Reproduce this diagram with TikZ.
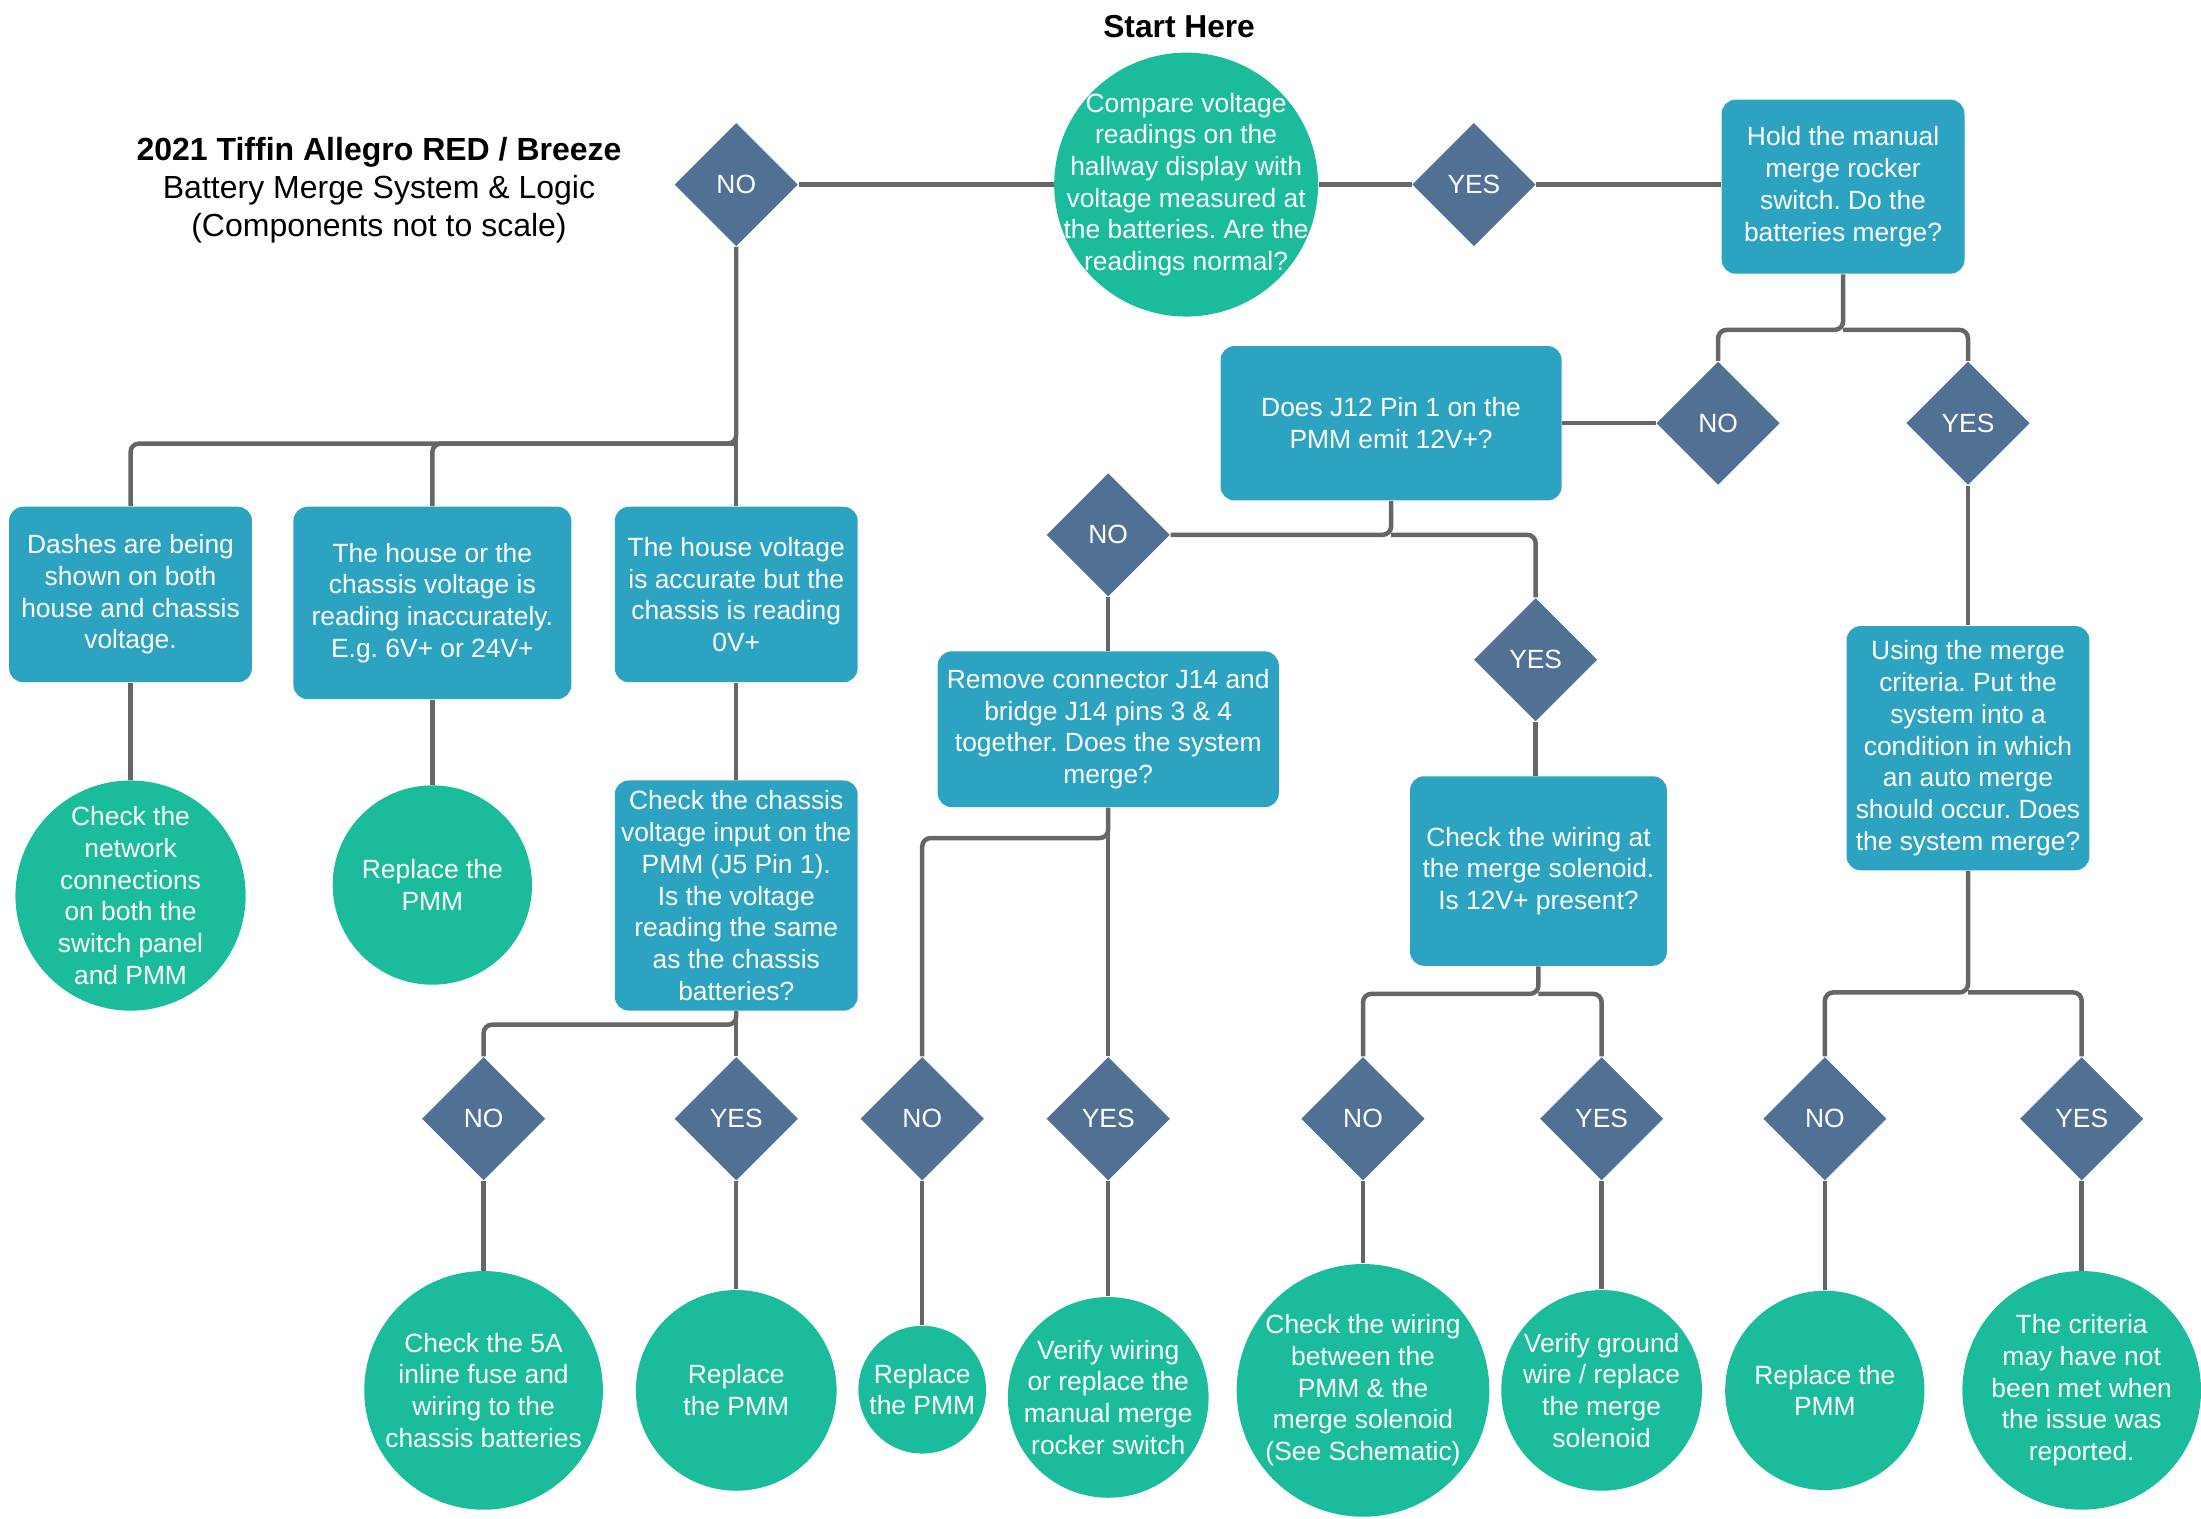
\documentclass[tikz,border=0pt]{standalone}
\usepackage{fontspec}
\setmainfont{Liberation Sans}
\usetikzlibrary{shapes.geometric}
\definecolor{circc}{HTML}{1BBC9B}
\definecolor{boxc}{HTML}{2CA3C0}
\definecolor{diac}{HTML}{517194}
\definecolor{linec}{HTML}{666666}
\frenchspacing
\begin{document}
\begin{tikzpicture}[x=0.5pt,y=-0.5pt,
  txt/.style={font=\fontsize{9.4}{11.3}\selectfont, text=white, align=center},
  box/.style={txt, rectangle, fill=boxc, rounded corners=5pt, inner sep=1pt},
  dec/.style={txt, diamond, fill=diac, minimum width=44pt, minimum height=44pt, inner sep=0pt},
  endc/.style={txt, circle, fill=circc, inner sep=-25pt},
  conn/.style={draw=linec, line width=1.6pt, rounded corners=3pt},
]
\useasboundingbox (0,0) rectangle (1568,1082);

% title
\node[font=\fontsize{11.4}{13.7}\selectfont, align=center] (title) at (270,135.5)
  {\textbf{2021 Tiffin Allegro RED / Breeze}\\Battery Merge System \& Logic\\(Components not to scale)};
\node[font=\bfseries\fontsize{11.3}{13.6}\selectfont] (starthere) at (840,19) {Start Here};

% top row
\node[endc, minimum size=94pt] (start) at (845,131.5)
  {Compare voltage\\readings on the\\hallway display with\\voltage measured at\\the batteries. Are the\\readings normal?};
\node[dec] (dNOa) at (524.5,131.5) {NO};
\node[dec] (dYESa) at (1050,131.5) {YES};
\node[box, minimum width=86.5pt, minimum height=62pt] (hold) at (1313,133)
  {Hold the manual\\merge rocker\\switch. Do the\\batteries merge?};

\node[dec] (dNOb) at (1224,301.5) {NO};
\node[dec] (dYESb) at (1402,301.5) {YES};
\node[box, minimum width=121.5pt, minimum height=55pt] (jtwelve) at (991,301.5)
  {Does J12 Pin 1 on the\\PMM emit 12V+?};

% left branch
\node[box, minimum width=86.5pt, minimum height=62.5pt] (ba) at (93,423.5)
  {Dashes are being\\shown on both\\house and chassis\\voltage.};
\node[box, minimum width=99pt, minimum height=68.5pt] (bb) at (308,429.5)
  {The house or the\\chassis voltage is\\reading inaccurately.\\E.g. 6V+ or 24V+};
\node[box, minimum width=86.5pt, minimum height=62.5pt] (bc) at (524.5,423.5)
  {The house voltage\\is accurate but the\\chassis is reading\\0V+};
\node[endc, minimum size=82pt] (ca) at (93,638)
  {Check the\\network\\connections\\on both the\\switch panel\\and PMM};
\node[endc, minimum size=71pt] (cb) at (308,630.5) {Replace the\\PMM};
\node[box, minimum width=86.5pt, minimum height=82pt] (bd) at (524.5,638)
  {Check the chassis\\voltage input on the\\PMM (J5 Pin 1).\\Is the voltage\\reading the same\\as the chassis\\batteries?};
\node[dec] (dNOc) at (344.5,797) {NO};
\node[dec] (dYESc) at (524.5,797) {YES};
\node[endc, minimum size=85pt] (cc) at (344.5,990.5)
  {Check the 5A\\inline fuse and\\wiring to the\\chassis batteries};
\node[endc, minimum size=71.5pt] (cd) at (524.5,990.5) {Replace\\the PMM};

% middle branch
\node[dec] (dNOd) at (789.5,381) {NO};
\node[dec] (dYESd) at (1094,470) {YES};
\node[box, minimum width=121.5pt, minimum height=55.5pt] (rem) at (789.5,519.5)
  {Remove connector J14 and\\bridge J14 pins 3 \& 4\\together. Does the system\\merge?};
\node[dec] (dNOe) at (657,797) {NO};
\node[dec] (dYESe) at (789.5,797) {YES};
\node[endc, minimum size=45.5pt] (ce) at (657,990) {Replace\\the PMM};
\node[endc, minimum size=71.5pt] (cf) at (789.5,995.5)
  {Verify wiring\\or replace the\\manual merge\\rocker switch};

\node[box, minimum width=91.5pt, minimum height=67.5pt] (chk) at (1096,620.5)
  {Check the wiring at\\the merge solenoid.\\Is 12V+ present?};
\node[dec] (dNOf) at (971,797) {NO};
\node[dec] (dYESf) at (1141,797) {YES};
\node[endc, minimum size=90pt] (cg) at (971,990.5)
  {Check the wiring\\between the\\PMM \& the\\merge solenoid\\(See Schematic)};
\node[endc, minimum size=71.5pt] (ch) at (1141,990.5)
  {Verify ground\\wire / replace\\the merge\\solenoid};

% right branch
\node[box, minimum width=86.5pt, minimum height=87pt] (using) at (1402,533)
  {Using the merge\\criteria. Put the\\system into a\\condition in which\\an auto merge\\should occur. Does\\the system merge?};
\node[dec] (dNOg) at (1300,797) {NO};
\node[dec] (dYESg) at (1483,797) {YES};
\node[endc, minimum size=71pt] (ci) at (1300,990.5) {Replace the\\PMM};
\node[endc, minimum size=85pt] (cj) at (1483,990.5)
  {The criteria\\may have not\\been met when\\the issue was\\reported.};

% junctions
\coordinate (ja) at (524.5,316);
\coordinate (jb) at (524.5,730);
\coordinate (jc) at (1313,235);
\coordinate (jd) at (991,381);
\coordinate (je) at (789.5,597);
\coordinate (jf) at (1096,708);
\coordinate (jg) at (1402,707);

% connectors
\draw[conn] (start.west) -- (dNOa.east);
\draw[conn] (start.east) -- (dYESa.west);
\draw[conn] (dYESa.east) -- (dYESa.east -| hold.west);
\draw[conn] (hold.south) -- (jc) -| (dNOb.north);
\draw[conn] (jc) -| (dYESb.north);
\draw[conn] (dNOb.west) -- (jtwelve.east);
\draw[conn] (dYESb.south) -- (using.north);

\draw[conn] (dNOa.south) -- (ja) -| (ba.north);
\draw[conn] (ja) -| (bb.north);
\draw[conn] (dNOa.south) -- (bc.north);
\draw[conn] (ba.south) -- (ca.north);
\draw[conn] (bb.south) -- (cb.north);
\draw[conn] (bc.south) -- (bd.north);
\draw[conn] (bd.south) -- (jb) -| (dNOc.north);
\draw[conn] (bd.south) -- (dYESc.north);
\draw[conn] (dNOc.south) -- (cc.north);
\draw[conn] (dYESc.south) -- (cd.north);

\draw[conn] (jtwelve.south) -- (jd) -- (dNOd.east);
\draw[conn] (jd) -| (dYESd.north);
\draw[conn] (dNOd.south) -- (rem.north);
\draw[conn] (rem.south) -- (je) -| (dNOe.north);
\draw[conn] (rem.south) -- (dYESe.north);
\draw[conn] (dNOe.south) -- (ce.north);
\draw[conn] (dYESe.south) -- (cf.north);

\draw[conn] (dYESd.south) -- (dYESd.south |- chk.north);
\draw[conn] (chk.south) -- (jf) -| (dNOf.north);
\draw[conn] (jf) -| (dYESf.north);
\draw[conn] (dNOf.south) -- (cg.north);
\draw[conn] (dYESf.south) -- (ch.north);

\draw[conn] (using.south) -- (jg) -| (dNOg.north);
\draw[conn] (jg) -| (dYESg.north);
\draw[conn] (dNOg.south) -- (ci.north);
\draw[conn] (dYESg.south) -- (cj.north);
\end{tikzpicture}
\end{document}
